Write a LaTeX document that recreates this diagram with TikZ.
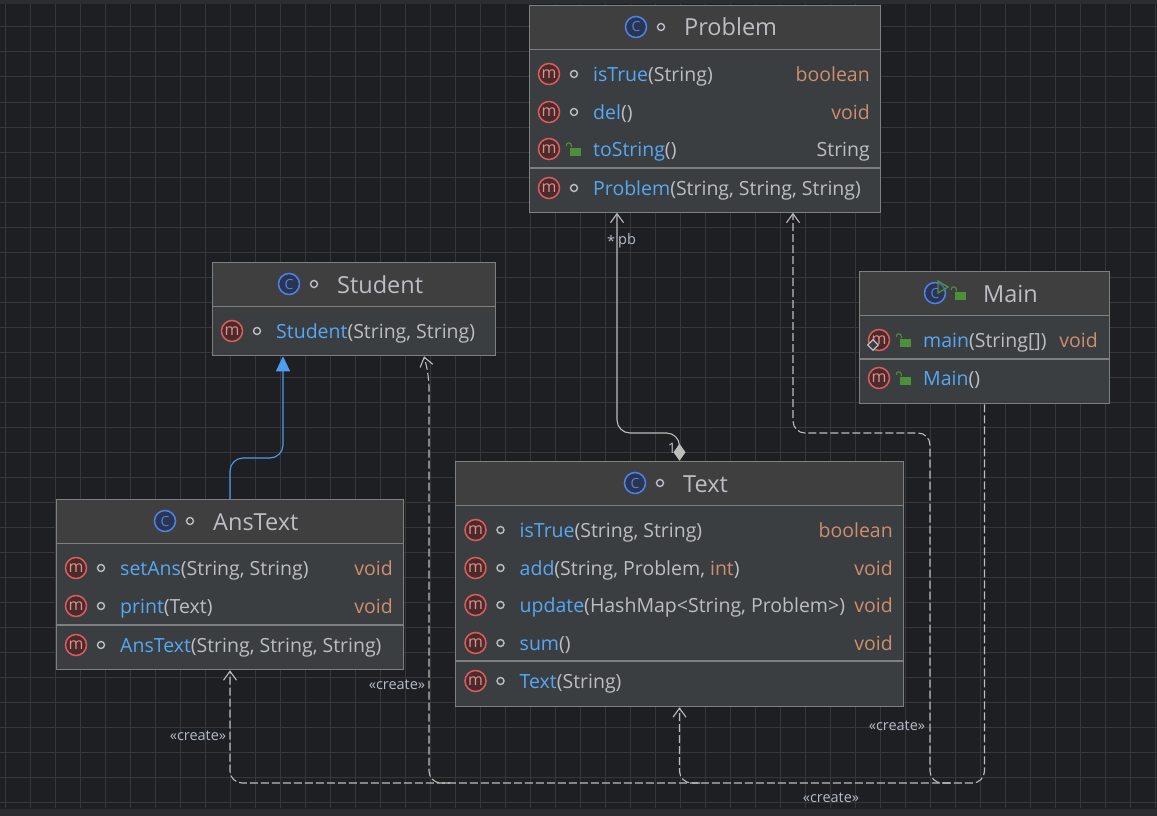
\documentclass[tikz,border=0pt]{standalone}
\usepackage{fontspec}
\setmainfont{Open Sans}
\usetikzlibrary{arrows.meta,shapes.geometric}
\definecolor{canvasbg}{HTML}{1E1F22}
\definecolor{chromebar}{HTML}{2B2D30}
\definecolor{gridcol}{HTML}{36373A}
\definecolor{boxedge}{HTML}{7E7F80}
\definecolor{headfill}{HTML}{403F3F}
\definecolor{bodyfill}{HTML}{3B3E41}
\definecolor{plaintxt}{HTML}{BCBEC4}
\definecolor{methodblue}{HTML}{56A8F5}
\definecolor{typeorange}{HTML}{CF8E6D}
\definecolor{labelgrey}{HTML}{B4BDC8}
\definecolor{edgegrey}{HTML}{BDBDBD}
\definecolor{inhblue}{HTML}{4F9CF0}
\definecolor{lockgreen}{HTML}{4E8F3A}
\definecolor{iconblue}{HTML}{4B82EE}
\definecolor{iconbluefill}{HTML}{2C3550}
\definecolor{iconred}{HTML}{DB5C5C}
\definecolor{iconredfill}{HTML}{4A2B2C}
\newcommand{\mname}[1]{\textcolor{methodblue}{#1}}
\newcommand{\rtype}[1]{\textcolor{typeorange}{#1}}
\newcommand{\visdot}[3]{\node[visring] (#1) at (#2,#3) {};}
\newcommand{\vislock}[3]{\node[lockbody] (#1) at (#2+1,#3+2.5) {};
  \draw[lockarc] ([xshift=2pt]#1.north west) -- ++(0,-3) -- ++(-1.5,-1.5) -- ++(-2,0) -- ++(-1.5,1.5) -- ++(0,1.5);}
% id, centre of class icon, y, visibility, name
\newcommand{\titlerow}[5]{\node[classicon] (#1c) at (#2,#3) {C};
  #4{#1v}{#2+25}{#3}
  \node[titletxt] (#1t) at (#2+48,#3+9) {#5};}
% id, box left, y, visibility, text, type, box right
\newcommand{\memrow}[7]{\node[methodicon] (#1m) at (#2+20,#3) {m};
  #4{#1v}{#2+45}{#3}
  \node[membertxt] (#1t) at (#2+64,#3+7.5) {#5};
  \node[typetxt] (#1r) at (#7-11,#3+7.5) {#6};}
\tikzset{
  classbox/.style={draw=boxedge, fill=bodyfill, line width=1pt, inner sep=0pt},
  classhead/.style={draw=boxedge, fill=headfill, line width=1pt, inner sep=0pt, anchor=north},
  sepline/.style={draw=boxedge, line width=1.4pt},
  classicon/.style={circle, draw=iconblue, fill=iconbluefill, line width=1.5pt, minimum size=21pt, inner sep=0pt, text=iconblue, font=\fontsize{14}{14}\selectfont},
  methodicon/.style={circle, draw=iconred, fill=iconredfill, line width=1.5pt, minimum size=21pt, inner sep=0pt, text=iconred!70!white, font=\fontsize{16}{16}\selectfont},
  visring/.style={circle, draw=plaintxt, fill=bodyfill, line width=1.4pt, minimum size=7pt, inner sep=0pt},
  lockbody/.style={rectangle, fill=lockgreen, minimum width=11pt, minimum height=8pt, inner sep=0pt},
  lockarc/.style={draw=lockgreen, line width=1.1pt, rounded corners=1pt},
  runmarker/.style={diamond, draw=plaintxt, fill=bodyfill, line width=1.3pt, minimum size=11pt, inner sep=0pt},
  titletxt/.style={anchor=base west, inner sep=0pt, text=plaintxt, font=\fontsize{23.5}{23.5}\selectfont},
  membertxt/.style={anchor=base west, inner sep=0pt, text=plaintxt, font=\fontsize{19.5}{19.5}\selectfont},
  typetxt/.style={anchor=base east, inner sep=0pt, text=plaintxt, font=\fontsize{19.5}{19.5}\selectfont},
  edgelabel/.style={inner sep=0pt, text=labelgrey, font=\fontsize{14.5}{14.5}\selectfont},
  assocline/.style={draw=edgegrey, line width=1.1pt, rounded corners=13pt},
  createline/.style={draw=edgegrey, line width=1.1pt, rounded corners=12pt, dash pattern=on 8pt off 3pt},
  openhead/.style={-{Straight Barb[length=9pt,width=13pt]}},
}
\begin{document}
\begin{tikzpicture}[x=1pt,y=-1pt]
  \useasboundingbox (0,0) rectangle (1157,816);
  \fill[canvasbg] (0,0) rectangle (1157,816);
  \foreach \gx in {5,30,...,1155} \draw[gridcol, line width=1pt] (\gx,4) -- (\gx,808);
  \foreach \gy in {27,52,...,802} \draw[gridcol, line width=1pt] (0,\gy) -- (1157,\gy);
  \fill[chromebar] (0,0) rectangle (1157,4);
  \fill[chromebar] (0,809) rectangle (1157,816);

  % class boxes
  \node[classbox, minimum width=351.5pt, minimum height=206.5pt] (problem) at (705,109) {};
  \node[classbox, minimum width=283.5pt, minimum height=93.5pt] (student) at (354,309) {};
  \node[classbox, minimum width=250pt, minimum height=132.5pt] (main) at (984.5,337.5) {};
  \node[classbox, minimum width=448.5pt, minimum height=245.5pt] (text) at (679.5,584) {};
  \node[classbox, minimum width=347.5pt, minimum height=170.5pt] (anstext) at (230,584.5) {};
  \node[classhead, minimum width=351.5pt, minimum height=44pt] (problemhead) at (problem.north) {};
  \node[classhead, minimum width=283.5pt, minimum height=44pt] (studenthead) at (student.north) {};
  \node[classhead, minimum width=250pt, minimum height=44pt] (mainhead) at (main.north) {};
  \node[classhead, minimum width=448.5pt, minimum height=44pt] (texthead) at (text.north) {};
  \node[classhead, minimum width=347.5pt, minimum height=44pt] (anstexthead) at (anstext.north) {};
  \draw[sepline] (problem.west |- 0,168) -- (problem.east |- 0,168);
  \draw[sepline] (main.west |- 0,359) -- (main.east |- 0,359);
  \draw[sepline] (text.west |- 0,661) -- (text.east |- 0,661);
  \draw[sepline] (anstext.west |- 0,625) -- (anstext.east |- 0,625);

  % Problem
  \titlerow{pbtitle}{636}{27}{\visdot}{Problem}
  \memrow{pbone}{529}{74}{\visdot}{\mname{isTrue}(String)}{\rtype{boolean}}{881}
  \memrow{pbtwo}{529}{112}{\visdot}{\mname{del}()}{\rtype{void}}{881}
  \memrow{pbthree}{529}{149}{\vislock}{\mname{toString}()}{String}{881}
  \memrow{pbfour}{529}{188}{\visdot}{\mname{Problem}(String, String, String)}{}{881}
  % Student
  \titlerow{sttitle}{289}{284}{\visdot}{Student}
  \memrow{stone}{212}{331}{\visdot}{\mname{Student}(String, String)}{}{496}
  % Main
  \node[classicon] (mntitlec) at (935,293) {C};
  \draw[lockgreen, line width=1.3pt, fill=headfill, fill opacity=0.4] (938,281) -- (948,287) -- (938,293) -- cycle;
  \vislock{mntitlev}{959}{293}
  \node[titletxt] (mntitlet) at (983,302) {Main};
  \memrow{mnone}{859}{340}{\vislock}{\mname{main}(String[])}{\rtype{void}}{1109}
  \node[runmarker] (mnrun) at (873,345) {};
  \memrow{mntwo}{859}{378}{\vislock}{\mname{Main}()}{}{1109}
  % Text
  \titlerow{txtitle}{635}{483}{\visdot}{Text}
  \memrow{txone}{455.5}{530}{\visdot}{\mname{isTrue}(String, String)}{\rtype{boolean}}{904}
  \memrow{txtwo}{455.5}{568}{\visdot}{\mname{add}(String, Problem, \rtype{int})}{\rtype{void}}{904}
  \memrow{txthree}{455.5}{605}{\visdot}{\mname{update}(HashMap<String, Problem>)}{\rtype{void}}{904}
  \memrow{txfour}{455.5}{643}{\visdot}{\mname{sum}()}{\rtype{void}}{904}
  \memrow{txfive}{455.5}{681}{\visdot}{\mname{Text}(String)}{}{904}
  % AnsText
  \titlerow{antitle}{165}{521}{\visdot}{AnsText}
  \memrow{anone}{56}{568}{\visdot}{\mname{setAns}(String, String)}{\rtype{void}}{404}
  \memrow{antwo}{56}{606}{\visdot}{\mname{print}(Text)}{\rtype{void}}{404}
  \memrow{anthree}{56}{645}{\visdot}{\mname{AnsText}(String, String, String)}{}{404}

  % connectors
  \coordinate (inhturn) at (283,458);
  \coordinate (pbturn) at (617,433);
  \coordinate (createturn) at (230,783);
  \coordinate (createtext) at (700,783);
  \coordinate (createstudent) at (450,783);
  \coordinate (createproblem) at (950,783);
  \draw[draw=inhblue, line width=1.1pt, rounded corners=13pt, -{Triangle[length=15pt,width=14pt]}, inhblue]
    (anstext.north) |- (inhturn) -- (inhturn |- student.south);
  \draw[assocline, {Diamond[length=17pt,width=12pt,fill=edgegrey]}-{Straight Barb[length=9pt,width=13pt]}]
    (text.north) |- (pbturn) -- (pbturn |- problem.south);
  \draw[createline, openhead] (main.south) |- (createturn) -- (anstext.south);
  \draw[createline, openhead] (createtext) -| (text.south);
  \draw[createline, openhead] (createstudent) -| (429,376) -- ([xshift=70pt]student.south);
  \draw[createline, openhead] (createproblem) -| (930,433) -| ([xshift=88pt]problem.south);

  \node[edgelabel] (starlabel) at (611,241) {*};
  \node[edgelabel] (pblabel) at (627,241) {pb};
  \node[edgelabel] (onelabel) at (672,448) {1};
  \node[edgelabel] (createone) at (198,736) {«create»};
  \node[edgelabel] (createtwo) at (397,685) {«create»};
  \node[edgelabel] (createthree) at (897,726) {«create»};
  \node[edgelabel] (createfour) at (831,798) {«create»};
\end{tikzpicture}
\end{document}
